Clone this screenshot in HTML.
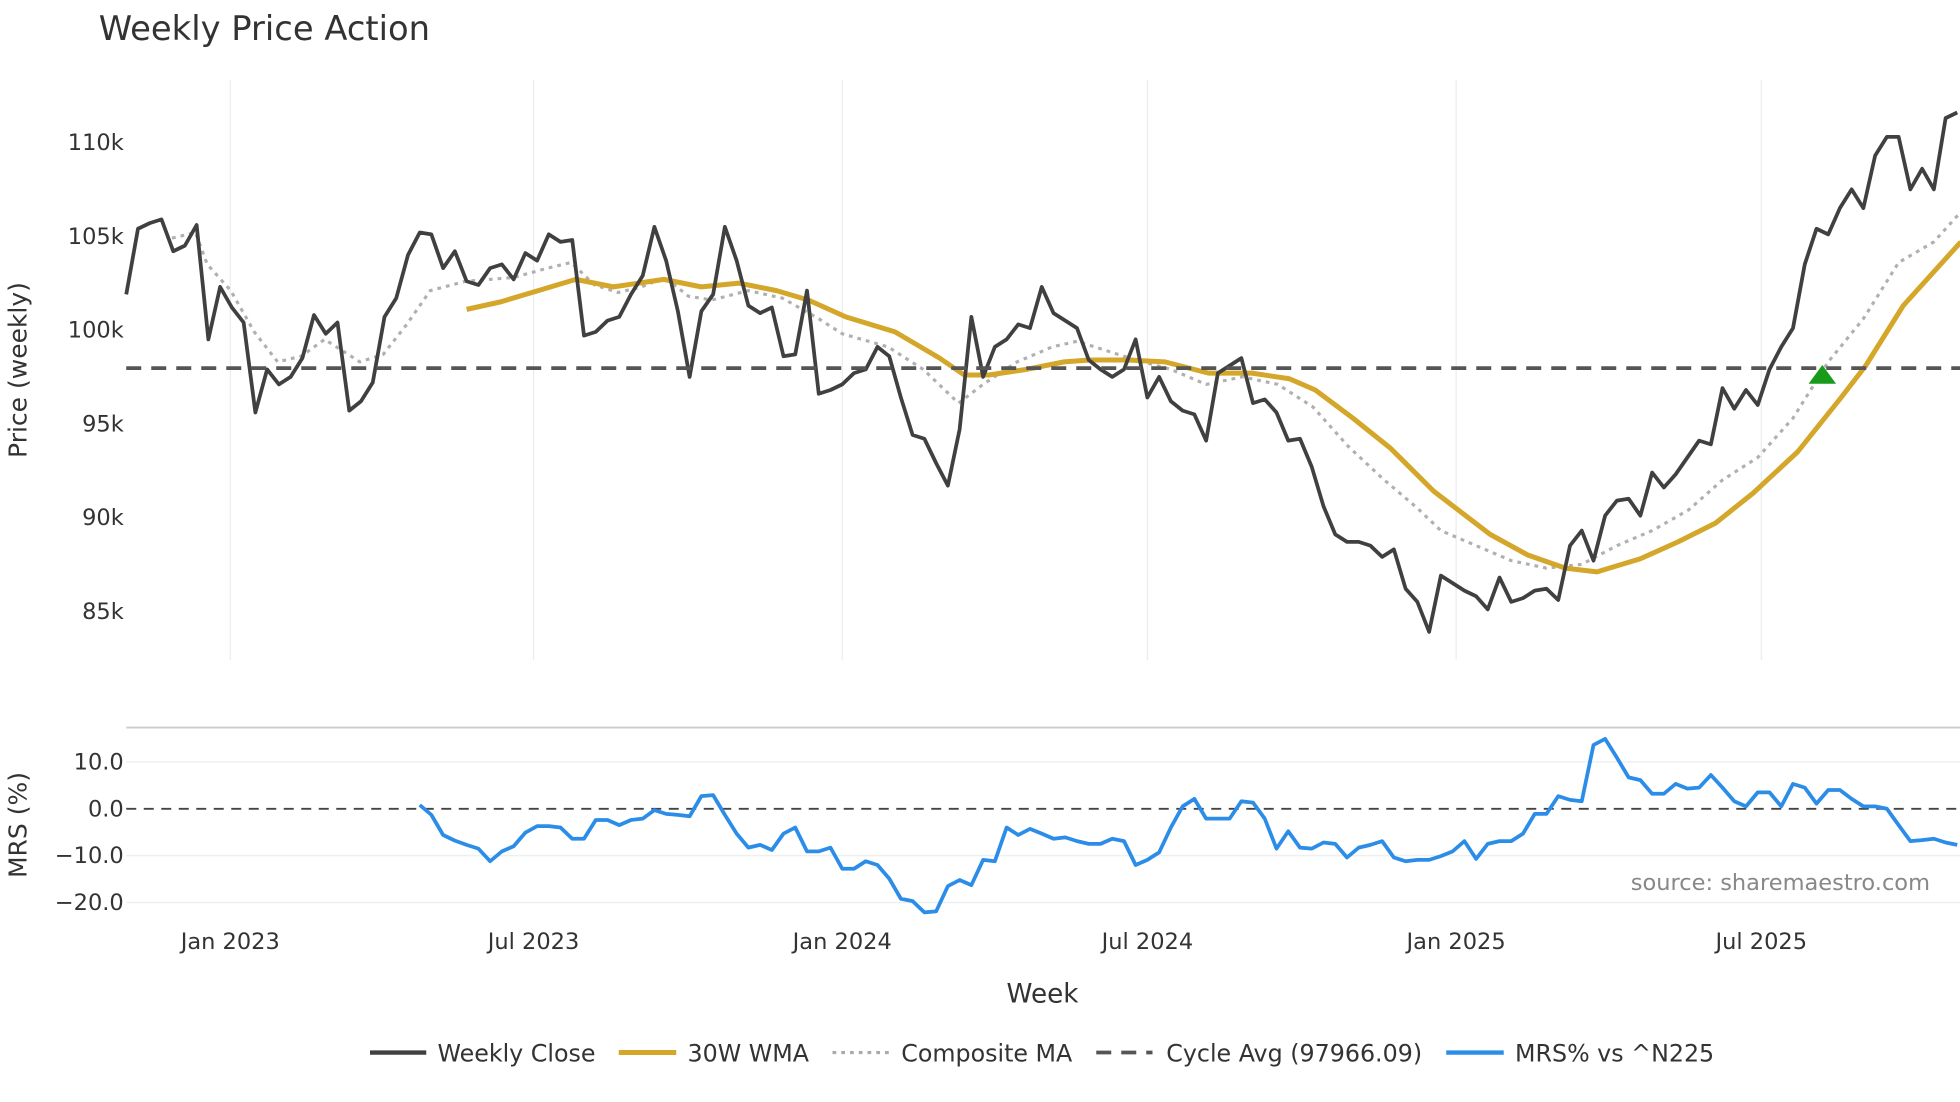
<!DOCTYPE html>
<html><head><meta charset="utf-8"><style>
html,body{margin:0;padding:0;background:#fff;}
svg{display:block;font-family:"DejaVu Sans","Liberation Sans",sans-serif;}
</style></head><body>
<svg id="chart" width="1960" height="1102" viewBox="0 0 1568 881.6" xmlns="http://www.w3.org/2000/svg">
<text x="79" y="32" font-size="27" fill="#333">Weekly Price Action</text>
<g id="grid"></g><g id="marks"></g><g id="labels"></g>
<text transform="translate(21,296) rotate(-90)" text-anchor="middle" font-size="20" fill="#333">Price (weekly)</text>
<text transform="translate(21,660) rotate(-90)" text-anchor="middle" font-size="20" fill="#333">MRS (%)</text>
<text x="834" y="802" text-anchor="middle" font-size="21" fill="#333">Week</text>
<text x="1544" y="712" text-anchor="end" font-size="18" fill="#888">source: sharemaestro.com</text>
<g font-size="19" fill="#333">
<g><line x1="296" y1="842" x2="341" y2="842" stroke="#404040" stroke-width="3.5"/><text x="350" y="849">Weekly Close</text></g>
<g><line x1="495" y1="842" x2="541" y2="842" stroke="#d4a62a" stroke-width="4"/><text x="550" y="849">30W WMA</text></g>
<g><line x1="666" y1="842" x2="711" y2="842" stroke="#aaa" stroke-width="2.5" stroke-dasharray="3,4"/><text x="721" y="849">Composite MA</text></g>
<g><line x1="877" y1="842" x2="922" y2="842" stroke="#555" stroke-width="3" stroke-dasharray="12,8"/><text x="933" y="849">Cycle Avg (97966.09)</text></g>
<g><line x1="1157" y1="842" x2="1203" y2="842" stroke="#2b8de8" stroke-width="3.5"/><text x="1212" y="849">MRS% vs ^N225</text></g>
</g>
</svg>
<script>
const closes=[101.9,105.4,105.7,105.9,104.2,104.5,105.6,99.5,102.3,101.2,100.4,95.6,97.9,97.1,97.5,98.5,100.8,99.8,100.4,95.7,96.2,97.2,100.7,101.7,104.0,105.2,105.1,103.3,104.2,102.6,102.4,103.3,103.5,102.7,104.1,103.7,105.1,104.7,104.8,99.7,99.9,100.5,100.7,101.9,102.9,105.5,103.7,101.0,97.5,101.0,101.9,105.5,103.7,101.3,100.9,101.2,98.6,98.7,102.1,96.6,96.8,97.1,97.7,97.9,99.1,98.6,96.4,94.4,94.2,92.9,91.7,94.7,100.7,97.5,99.1,99.5,100.3,100.1,102.3,100.9,100.5,100.1,98.4,97.9,97.5,97.9,99.5,96.4,97.5,96.2,95.7,95.5,94.1,97.7,98.1,98.5,96.1,96.3,95.6,94.1,94.2,92.7,90.6,89.1,88.7,88.7,88.5,87.9,88.3,86.2,85.5,83.9,86.9,86.5,86.1,85.8,85.1,86.8,85.5,85.7,86.1,86.2,85.6,88.5,89.3,87.7,90.1,90.9,91.0,90.1,92.4,91.6,92.3,93.2,94.1,93.9,96.9,95.8,96.8,96.0,97.9,99.1,100.1,103.5,105.4,105.1,106.5,107.5,106.5,109.3,110.3,110.3,107.5,108.6,107.5,111.3,111.6];
const wmaWeeks=[29,31.9,35.1,38.3,41.5,45.8,49,52.2,55.4,58.1,61.3,65.5,69.3,71.4,73.5,76.7,79.9,82.1,85.3,88.5,92.2,95.9,99.1,101.3,104.5,107.7,111.4,116.2,119.4,122.6,125.3,129,132.2,135.4,138.6,142.4,146.1,148.2,151.4,156.3];
const wmaValues=[101.1,101.5,102.1,102.7,102.3,102.7,102.3,102.5,102.1,101.6,100.7,99.9,98.5,97.6,97.6,97.9,98.3,98.4,98.4,98.3,97.7,97.7,97.4,96.8,95.3,93.7,91.4,89.1,88.0,87.3,87.1,87.8,88.7,89.7,91.3,93.5,96.4,98.1,101.3,104.7];
const compWeeks=[3.9,5.9,6.9,8.9,10.9,12.9,14.9,16.9,19.9,21.9,23.9,25.9,28.9,33,35.9,37.9,39.9,41.9,43.9,45.9,47.9,49.9,53,55.9,59,61,64.9,67.9,70.9,73,75.9,78.9,81,83,86,89,92,95.1,98.1,101.1,104.1,107,110,112,115,118,121,124,127,130,133.1,136,139,142,145,148,151,154,156.3];
const compValues=[104.9,105.2,103.5,102.1,99.9,98.3,98.6,99.5,98.3,98.7,100.3,102.1,102.6,102.8,103.3,103.6,102.4,102.0,102.3,102.8,101.8,101.6,102.1,101.7,100.6,99.8,99.1,97.9,96.1,97.1,98.3,99.1,99.4,99.0,98.4,97.9,97.1,97.5,97.1,95.9,93.8,92.1,90.5,89.3,88.5,87.7,87.3,87.5,88.5,89.3,90.4,92.0,93.2,95.3,98.3,100.6,103.6,104.7,106.3];
const mrsStart=25;
const mrsValues=[0.8,-1.3,-5.6,-6.8,-7.7,-8.5,-11.2,-9.1,-8,-5.1,-3.7,-3.7,-4,-6.4,-6.4,-2.4,-2.4,-3.5,-2.4,-2.1,-0.3,-1.1,-1.3,-1.6,2.7,2.9,-1.3,-5.3,-8.3,-7.7,-8.8,-5.3,-4,-9.1,-9.1,-8.3,-12.8,-12.8,-11.2,-12,-14.9,-19.2,-19.7,-22.1,-21.9,-16.5,-15.2,-16.3,-10.9,-11.2,-4,-5.6,-4.3,-5.3,-6.4,-6.1,-6.9,-7.5,-7.5,-6.4,-6.9,-12,-10.9,-9.3,-4,0.5,2.1,-2.1,-2.1,-2.1,1.6,1.3,-2.1,-8.5,-4.8,-8.3,-8.5,-7.2,-7.5,-10.4,-8.3,-7.7,-6.9,-10.4,-11.2,-10.9,-10.9,-10.1,-9.1,-6.9,-10.7,-7.5,-6.9,-6.9,-5.3,-1.1,-1.1,2.7,1.9,1.6,13.6,14.9,10.9,6.7,6.1,3.2,3.2,5.3,4.3,4.5,7.2,4.5,1.6,0.5,3.5,3.5,0.5,5.3,4.5,1.1,4,4,2.1,0.5,0.5,0,-3.5,-6.9,-6.7,-6.4,-7.2,-7.7];
const cycleAvg=97.96609;
const signalWeeks=[144.5];
const signalValues=[97.6];
const priceTicks=[110,105,100,95,90,85];
const priceTickLabels=["110k","105k","100k","95k","90k","85k"];
const mrsTicks=[10,0,-10,-20];
const mrsTickLabels=["10.0","0.0","−10.0","−20.0"];
const dateTicks=[8.86,34.7,61,87,113.3,139.3];
const dateTickLabels=["Jan 2023","Jul 2023","Jan 2024","Jul 2024","Jan 2025","Jul 2025"];

const NS="http://www.w3.org/2000/svg";
const X0=101,STEP=9.39;
const xs=i=>X0+i*STEP;
const yp=v=>264-(v-100)*15;
const ym=m=>647-m*3.75;
function mk(tag,attrs,parent){const e=document.createElementNS(NS,tag);for(const k in attrs)e.setAttribute(k,attrs[k]);document.getElementById(parent).appendChild(e);return e;}
function path(ix,vals,fy){return vals.map((v,k)=>(k?"L":"M")+ix(k).toFixed(1)+","+fy(v).toFixed(1)).join("");}

dateTicks.forEach((w,k)=>{
  const g=mk("line",{x1:xs(w),x2:xs(w),y1:64,y2:528,stroke:"#e9edf1","stroke-width":1},"grid");
  
  
  const t=mk("text",{x:xs(w),y:759,"text-anchor":"middle","font-size":18,fill:"#333"},"labels");
  t.textContent=dateTickLabels[k];
  
  
});
priceTicks.forEach((v,k)=>{
  const t=mk("text",{x:99,y:yp(v)+6,"text-anchor":"end","font-size":18,fill:"#333"},"labels");
  t.textContent=priceTickLabels[k];
  
  
});
const panelBorder=mk("line",{x1:101,x2:1568,y1:582,y2:582,stroke:"#ccc","stroke-width":1.5},"grid");


mrsTicks.forEach((m,k)=>{
  if(m!==0){const l=mk("line",{x1:101,x2:1568,y1:ym(m),y2:ym(m),stroke:"#edf0f3","stroke-width":1.2},"grid");
  
  }
  const t=mk("text",{x:99,y:ym(m)+6,"text-anchor":"end","font-size":18,fill:"#333"},"labels");
  t.textContent=mrsTickLabels[k];
  
  
});
const zeroLine=mk("line",{x1:101,x2:1568,y1:ym(0),y2:ym(0),stroke:"#444","stroke-width":1.5,"stroke-dasharray":"8,6"},"marks");



const comp=mk("path",{d:path(k=>xs(compWeeks[k]),compValues,yp),fill:"none",stroke:"#b0b0b0","stroke-width":2.5,"stroke-dasharray":"3,4"},"marks");


const wma=mk("path",{d:path(k=>xs(wmaWeeks[k]),wmaValues,yp),fill:"none",stroke:"#d4a62a","stroke-width":4,"stroke-linejoin":"round"},"marks");


const cl=mk("path",{d:path(k=>xs(k),closes,yp),fill:"none",stroke:"#404040","stroke-width":3,"stroke-linejoin":"round"},"marks");


const cyc=mk("line",{x1:101,x2:1568,y1:yp(cycleAvg),y2:yp(cycleAvg),stroke:"#555","stroke-width":3,"stroke-dasharray":"12,8"},"marks");


signalWeeks.forEach((w,k)=>{
  const x=xs(w),y=yp(signalValues[k]);
  const tr=mk("path",{d:`M${x-11},${y+7}L${x},${y-8}L${x+11},${y+7}Z`,fill:"#1a9a1a"},"marks");
  
  
});
const mrs=mk("path",{d:path(k=>xs(mrsStart+k),mrsValues,ym),fill:"none",stroke:"#2b8de8","stroke-width":3,"stroke-linejoin":"round"},"marks");


</script>
</body></html>
